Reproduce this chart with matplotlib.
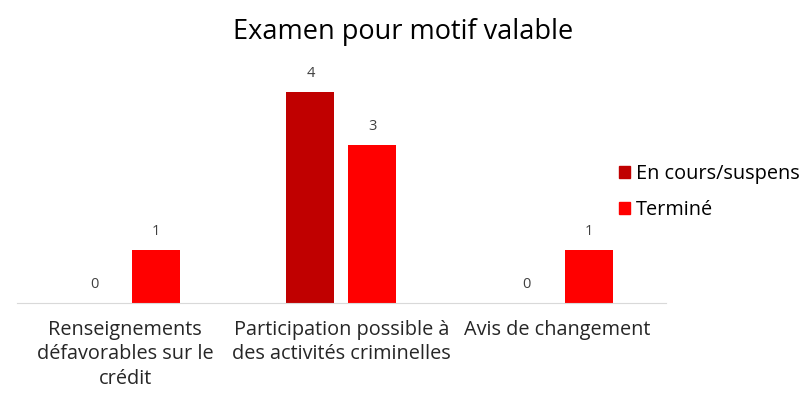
import numpy as np
import matplotlib.pyplot as plt
from matplotlib.patches import Patch

plt.rcParams['font.family'] = ['Open Sans', 'DejaVu Sans']

categories = ['Renseignements\ndéfavorables sur le\ncrédit',
              'Participation possible à\ndes activités criminelles',
              'Avis de changement']
en_cours = [0, 4, 0]
termine = [1, 3, 1]
series_names = ['En cours/suspens', 'Terminé']
colors = ['#C00000', '#FF0000']

fig = plt.figure(figsize=(8.06, 4.01), dpi=100)
ax = fig.add_axes([0.021, 0.2444, 0.805, 0.591])

x = np.arange(len(categories))
w = 0.222
off = 0.143
b1 = ax.bar(x - off, en_cours, w, color=colors[0])
b2 = ax.bar(x + off, termine, w, color=colors[1])

for bars in (b1, b2):
    for r in bars:
        ax.annotate(f'{int(r.get_height())}',
                    (r.get_x() + r.get_width() / 2, r.get_height()),
                    xytext=(0, 8), textcoords='offset points',
                    ha='center', va='bottom', fontsize=10.5, color='#404040')

ax.set_xlim(-0.5, 2.5)
ax.set_ylim(0, 4.5)
ax.set_yticks([])
ax.set_xticks(x)
ax.set_xticklabels(categories, fontsize=14.3, color='#262626', linespacing=1.3)
ax.tick_params(axis='x', length=0, pad=12)
for s in ['top', 'right', 'left']:
    ax.spines[s].set_visible(False)
ax.spines['bottom'].set_color('#D9D9D9')

fig.suptitle('Examen pour motif valable', x=0.5, y=0.955, fontsize=19.5, color='#000000')

handles = [Patch(color=c) for c in colors]
fig.legend(handles, series_names, loc='center left', bbox_to_anchor=(0.768, 0.522),
           frameon=False, fontsize=14.3, handlelength=0.55, handleheight=0.55,
           handletextpad=0.3, labelspacing=0.8, borderpad=0, borderaxespad=0)

plt.savefig('out.png', dpi=100)
